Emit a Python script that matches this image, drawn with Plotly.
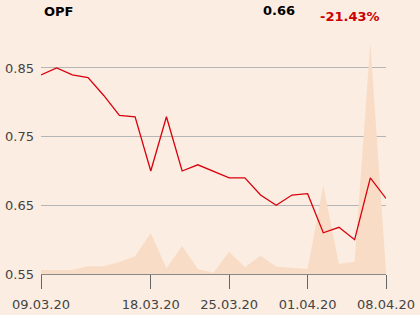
import plotly.graph_objects as go

dates = ["09.03.20","10.03.20","11.03.20","12.03.20","13.03.20",
         "16.03.20","17.03.20","18.03.20","19.03.20","20.03.20",
         "23.03.20","24.03.20","25.03.20","26.03.20","27.03.20",
         "30.03.20","31.03.20","01.04.20","02.04.20","03.04.20",
         "06.04.20","07.04.20","08.04.20"]
price = [0.84, 0.85, 0.84, 0.836, 0.81, 0.781, 0.779, 0.70, 0.779, 0.70,
         0.709, 0.70, 0.69, 0.69, 0.665, 0.65, 0.665, 0.667, 0.61, 0.618,
         0.60, 0.69, 0.66]
volume = [40, 40, 40, 77, 77, 120, 177, 410, 57, 280,
          50, 13, 223, 67, 183, 73, 60, 50, 883, 100,
          123, 2310, 20]
tick_labels = ["09.03.20", "18.03.20", "25.03.20", "01.04.20", "08.04.20"]

title = "OPF"
last_price = "0.66"
change = "-21.43%"

BG = "#fbede1"
FILL = "#f8dcc6"
RED = "#d9000d"
FONT = "DejaVu Sans"

fig = go.Figure()
fig.add_trace(go.Scatter(x=dates, y=volume, yaxis="y", mode="lines",
                         line=dict(width=0), fill="tozeroy",
                         fillcolor=FILL, hoverinfo="skip"))
fig.add_trace(go.Scatter(x=dates, y=price, yaxis="y2", mode="lines",
                         line=dict(color=RED, width=1.3)))

fig.update_layout(
    template="none",
    width=420, height=315,
    margin=dict(l=41, r=34, t=40, b=41),
    paper_bgcolor=BG, plot_bgcolor=BG,
    showlegend=False,
    font=dict(family=FONT, size=13, color="#444444"),
    xaxis=dict(type="category", range=[0, len(dates) - 1], automargin=False,
               tickmode="array", tickvals=tick_labels, ticktext=tick_labels,
               showgrid=False, showline=True, linecolor="#888888", linewidth=1,
               ticks="outside", ticklen=14, tickcolor="#666666", tickwidth=1,
               ticklabelstandoff=4,
               tickfont=dict(size=13, color="#444444"), zeroline=False),
    yaxis=dict(range=[0, 2340], visible=False, showgrid=False, zeroline=False,
               automargin=False),
    yaxis2=dict(overlaying="y", side="left", range=[0.55, 0.55 + 234 / 686.7],
                automargin=False,
                tickvals=[0.55, 0.65, 0.75, 0.85],
                ticktext=["0.55", "0.65", "0.75", "0.85"],
                showgrid=True, gridcolor="#b5b5b5", gridwidth=1,
                zeroline=False, showline=False, ticks="",
                ticklabelstandoff=6,
                tickfont=dict(size=13, color="#444444")),
    annotations=[
        dict(text="<b>" + title + "</b>", xref="paper", yref="paper",
             x=(42 - 41) / 345, y=(274 - 11) / 234, xanchor="left", yanchor="middle",
             showarrow=False, font=dict(size=13, color="#000000", family=FONT)),
        dict(text="<b>" + last_price + "</b>", xref="paper", yref="paper",
             x=(297 - 41) / 345, y=(274 - 10) / 234, xanchor="right", yanchor="middle",
             showarrow=False, font=dict(size=13, color="#000000", family=FONT)),
        dict(text="<b>" + change + "</b>", xref="paper", yref="paper",
             x=(382 - 41) / 345, y=(274 - 17) / 234, xanchor="right", yanchor="middle",
             showarrow=False, font=dict(size=13, color="#cc0000", family=FONT)),
    ],
)

fig.write_html("out.html")
